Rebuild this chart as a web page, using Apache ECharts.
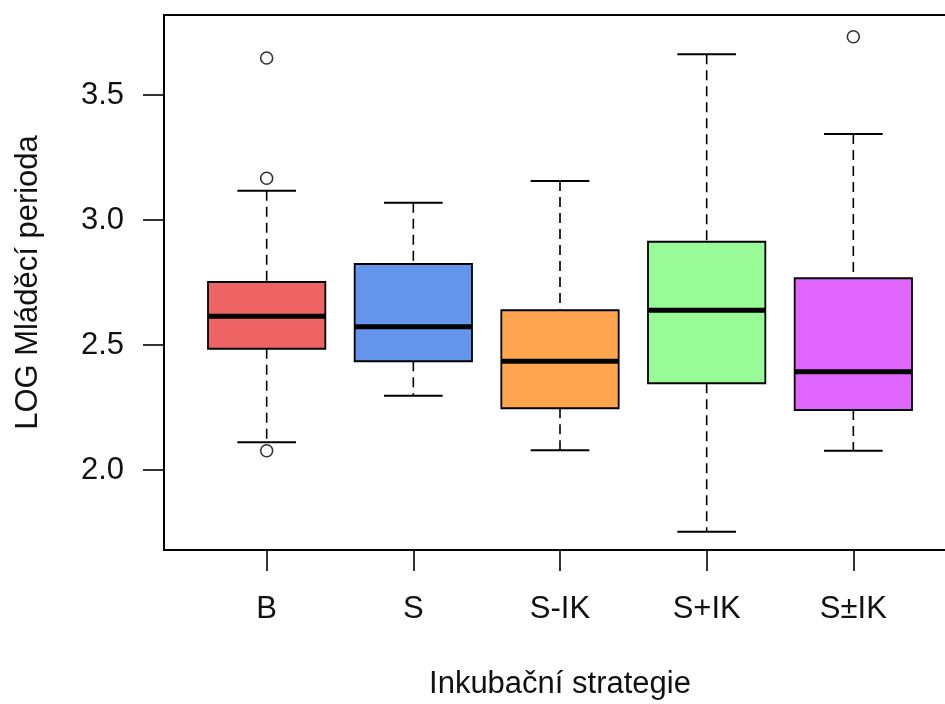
<!DOCTYPE html>
<html>
<head>
<meta charset="utf-8">
<script src="https://cdn.jsdelivr.net/npm/echarts@6/dist/echarts.min.js"></script>
<style>
html,body{margin:0;padding:0;background:#fff;}
#chart{width:945px;height:704px;}
</style>
</head>
<body>
<div id="chart"></div>
<script>
// ---- data ----
const categories = ['B', 'S', 'S-IK', 'S+IK', 'S\u00b1IK'];
const whiskerLow  = [2.111, 2.297, 2.079, 1.753, 2.077];
const q1          = [2.485, 2.435, 2.247, 2.347, 2.240];
const median      = [2.615, 2.573, 2.435, 2.639, 2.393];
const q3          = [2.752, 2.824, 2.639, 2.913, 2.767];
const whiskerHigh = [3.117, 3.069, 3.156, 3.663, 3.344];
const outlierCat  = ['B', 'B', 'B', 'S\u00b1IK'];
const outlierVal  = [3.648, 3.167, 2.077, 3.733];
const yTicks = [2.0, 2.5, 3.0, 3.5];
const xTitle = 'Inkubační strategie';
const yTitle = 'LOG Mláděcí perioda';

// ---- styles ----
const colors = ['#EE6363', '#6495ED', '#FFA54F', '#98FB98', '#E066FF'];
const FONT = 'Liberation Sans, Arial, sans-serif';
const BOX_HALF = 0.4, STAPLE_HALF = 0.2;

const boxData = categories.map((c, i) => [i + 1, whiskerLow[i], q1[i], median[i], q3[i], whiskerHigh[i]]);
const outData = outlierCat.map((c, i) => [categories.indexOf(c) + 1, outlierVal[i]]);

const chart = echarts.init(document.getElementById('chart'), null, {renderer: 'canvas'});

function renderBox(params, api) {
  const x = api.value(0);
  const lo = api.value(1), a = api.value(2), m = api.value(3), b = api.value(4), hi = api.value(5);
  const pL = api.coord([x - BOX_HALF, b]);
  const pR = api.coord([x + BOX_HALF, a]);
  const mL = api.coord([x - BOX_HALF, m]);
  const mR = api.coord([x + BOX_HALF, m]);
  const cTop = api.coord([x, hi]);
  const cQ3 = api.coord([x, b]);
  const cQ1 = api.coord([x, a]);
  const cBot = api.coord([x, lo]);
  const sL1 = api.coord([x - STAPLE_HALF, hi]);
  const sR1 = api.coord([x + STAPLE_HALF, hi]);
  const sL2 = api.coord([x - STAPLE_HALF, lo]);
  const sR2 = api.coord([x + STAPLE_HALF, lo]);
  const dash = {stroke: '#000', lineWidth: 1.6, lineDash: [10, 6]};
  const solid = {stroke: '#000', lineWidth: 1.8};
  return {
    type: 'group',
    children: [
      {type: 'line', shape: {x1: cTop[0], y1: cTop[1], x2: cQ3[0], y2: cQ3[1]}, style: dash},
      {type: 'line', shape: {x1: cQ1[0], y1: cQ1[1], x2: cBot[0], y2: cBot[1]}, style: dash},
      {type: 'line', shape: {x1: sL1[0], y1: sL1[1], x2: sR1[0], y2: sR1[1]}, style: solid},
      {type: 'line', shape: {x1: sL2[0], y1: sL2[1], x2: sR2[0], y2: sR2[1]}, style: solid},
      {type: 'rect', shape: {x: pL[0], y: pL[1], width: pR[0] - pL[0], height: pR[1] - pL[1]},
        style: {fill: colors[params.dataIndex], stroke: '#000', lineWidth: 1.8}},
      {type: 'line', shape: {x1: mL[0], y1: mL[1], x2: mR[0], y2: mR[1]},
        style: {stroke: '#000', lineWidth: 5}}
    ]
  };
}

chart.setOption({
  animation: false,
  backgroundColor: '#fff',
  grid: {left: 164, top: 15, width: 792, height: 535, outerBoundsMode: 'none', containLabel: false,
    show: true, borderColor: '#000', borderWidth: 2, backgroundColor: 'transparent'},
  xAxis: {
    type: 'value', min: 0.3, max: 5.7,
    splitLine: {show: false},
    axisLine: {show: false},
    axisTick: {show: true, inside: false, length: 21, lineStyle: {color: '#000', width: 1.6}, customValues: [1, 2, 3, 4, 5]},
    axisLabel: {show: true, margin: 44, color: '#111', fontFamily: FONT, fontSize: 31,
      customValues: [1, 2, 3, 4, 5], formatter: v => categories[Math.round(v) - 1]},
    name: xTitle, nameLocation: 'middle', nameGap: 119,
    nameTextStyle: {color: '#111', fontFamily: FONT, fontSize: 31}
  },
  yAxis: {
    type: 'value', min: 1.68, max: 3.82,
    splitLine: {show: false},
    axisLine: {show: false},
    axisTick: {show: true, inside: false, length: 21, lineStyle: {color: '#000', width: 1.6}, customValues: yTicks},
    axisLabel: {show: true, margin: 40, color: '#111', fontFamily: FONT, fontSize: 31,
      customValues: yTicks, formatter: v => v.toFixed(1)},
    name: yTitle, nameLocation: 'middle', nameRotate: 90, nameGap: 120,
    nameTextStyle: {color: '#111', fontFamily: FONT, fontSize: 31}
  },
  series: [
    {type: 'custom', renderItem: renderBox, data: boxData, encode: {x: 0, y: [1, 2, 3, 4, 5]}, clip: false},
    {type: 'scatter', data: outData, symbol: 'circle', symbolSize: 12,
      itemStyle: {color: '#fff', borderColor: '#000', borderWidth: 1.6}, z: 5}
  ]
});
</script>
</body>
</html>
